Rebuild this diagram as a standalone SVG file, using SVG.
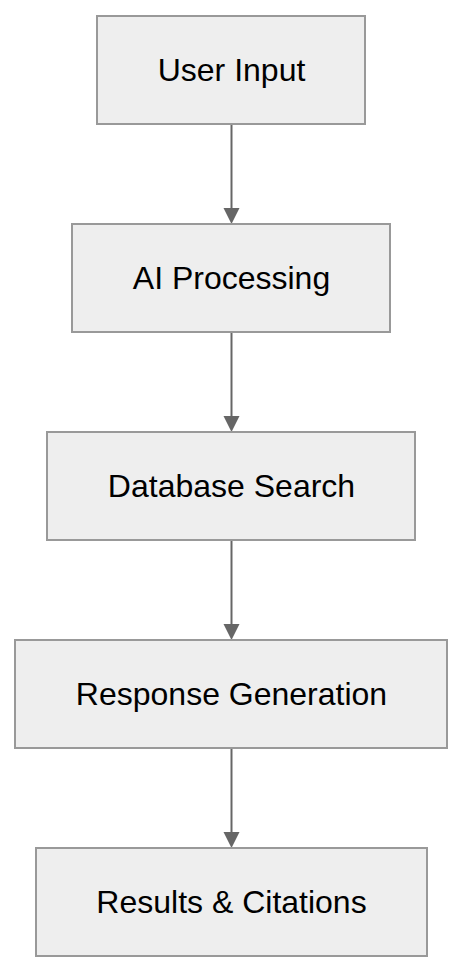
<svg xmlns="http://www.w3.org/2000/svg" width="464" height="972" viewBox="0 0 464 972">
<style>
.box{fill:#eeeeee;stroke:#999999;stroke-width:2}
.lbl{font-family:"Liberation Sans",Arial,sans-serif;font-size:32px;fill:#000;text-anchor:middle}
.edge{stroke:#666666;stroke-width:2;fill:none}
.head{fill:#666666}
</style>
<defs>
<polygon id="ah" points="-8,-16 8,-16 0,0" class="head"/>
</defs>
<rect width="464" height="972" fill="#ffffff"/>
<g id="connectors">
<line class="edge" x1="231.5" y1="124" x2="231.5" y2="210"/>
<use href="#ah" x="231.5" y="224"/>
<line class="edge" x1="231.5" y1="332" x2="231.5" y2="418"/>
<use href="#ah" x="231.5" y="432"/>
<line class="edge" x1="231.5" y1="540" x2="231.5" y2="626"/>
<use href="#ah" x="231.5" y="640"/>
<line class="edge" x1="231.5" y1="748" x2="231.5" y2="834"/>
<use href="#ah" x="231.5" y="848"/>
</g>
<g id="node-user-input">
<rect class="box" x="97" y="16" width="268" height="108"/>
<text class="lbl" x="231.5" y="81">User Input</text>
</g>
<g id="node-ai-processing">
<rect class="box" x="72" y="224" width="318" height="108"/>
<text class="lbl" x="231.5" y="289">AI Processing</text>
</g>
<g id="node-database-search">
<rect class="box" x="47" y="432" width="368" height="108"/>
<text class="lbl" x="231.5" y="497">Database Search</text>
</g>
<g id="node-response-generation">
<rect class="box" x="15" y="640" width="432" height="108"/>
<text class="lbl" x="231.5" y="705">Response Generation</text>
</g>
<g id="node-results-citations">
<rect class="box" x="36" y="848" width="391" height="108"/>
<text class="lbl" x="231.5" y="913">Results &amp; Citations</text>
</g>
</svg>
